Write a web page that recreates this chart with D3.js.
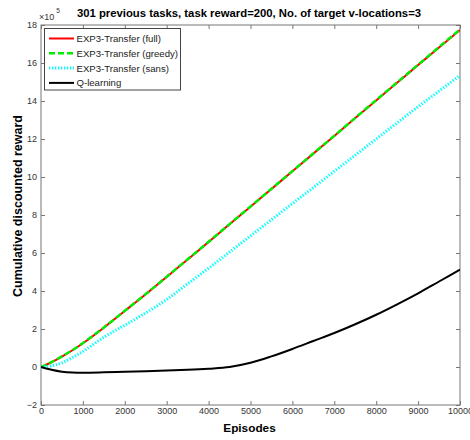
<!DOCTYPE html>
<html><head><meta charset="utf-8">
<script src="https://cdn.jsdelivr.net/npm/d3@7"></script>
<style>body{margin:0;background:#fff}svg{display:block}</style>
</head><body>
<script>
const episodes = [0,250,500,750,1000,1500,2000,2500,3000,3500,4000,4500,5000,5500,6000,6500,7000,7500,8000,8500,9000,9500,10000];
const fullVals   = [0,0.25,0.55,0.88,1.25,2.07,2.95,3.83,4.74,5.66,6.58,7.51,8.44,9.37,10.3,11.23,12.16,13.1,14.03,14.96,15.89,16.82,17.74];
const greedyVals = [0,0.26,0.56,0.89,1.26,2.08,2.96,3.84,4.75,5.67,6.59,7.52,8.45,9.38,10.31,11.24,12.17,13.11,14.05,14.98,15.91,16.84,17.77];
const sansVals   = [0,0.06,0.22,0.5,0.82,1.57,2.2,2.85,3.55,4.38,5.2,6.05,6.9,7.75,8.6,9.45,10.3,11.15,12.0,12.85,13.7,14.52,15.35];
const qVals      = [0,-0.15,-0.25,-0.29,-0.3,-0.28,-0.25,-0.22,-0.19,-0.15,-0.09,0.0,0.22,0.56,0.95,1.37,1.79,2.25,2.75,3.3,3.88,4.5,5.12];
const seriesNames = ["EXP3-Transfer (full)","EXP3-Transfer (greedy)","EXP3-Transfer (sans)","Q-learning"];
const xTicks = [0,1000,2000,3000,4000,5000,6000,7000,8000,9000,10000];
const yTicks = [-2,0,2,4,6,8,10,12,14,16,18];
const titleText = "301 previous tasks, task reward=200, No. of target v-locations=3";
const xLabel = "Episodes";
const yLabel = "Cumulative discounted reward";

const W = 470, H = 440;
const L = 41, R = 460, T = 25, B = 405;
const font = "'Liberation Sans', Arial, Helvetica, sans-serif";
const tickFont = "'Liberation Sans Narrow', 'Liberation Sans', Arial, sans-serif";
const svg = d3.select("body").append("svg").attr("width", W).attr("height", H)
  .style("font-family", font);

const x = d3.scaleLinear().domain([0,10000]).range([L,R]);
const y = d3.scaleLinear().domain([-2,18]).range([B,T]);

svg.append("defs").append("clipPath").attr("id","c")
  .append("rect").attr("x",L).attr("y",T).attr("width",R-L).attr("height",B-T);

// axes
const axisColor = "#777";
const tickColor = "#333";
const tl = 4;
function styleAxis(g, showLabels){
  g.select(".domain").remove();
  g.selectAll(".tick line").attr("stroke", axisColor);
  g.selectAll(".tick text").attr("fill", tickColor).style("font-size","9px").style("font-family",tickFont);
  if(!showLabels) g.selectAll(".tick text").remove();
}
svg.append("g").attr("transform",`translate(0,${B})`)
  .call(d3.axisBottom(x).tickValues(xTicks).tickSize(-tl).tickPadding(3).tickFormat(d3.format("d")))
  .call(g=>styleAxis(g,true));
svg.append("g").attr("transform",`translate(0,${T})`)
  .call(d3.axisTop(x).tickValues(xTicks).tickSize(-tl))
  .call(g=>styleAxis(g,false));
svg.append("g").attr("transform",`translate(${L},0)`)
  .call(d3.axisLeft(y).tickValues(yTicks).tickSize(-tl).tickPadding(4).tickFormat(d3.format("d")))
  .call(g=>styleAxis(g,true));
svg.append("g").attr("transform",`translate(${R},0)`)
  .call(d3.axisRight(y).tickValues(yTicks).tickSize(-tl))
  .call(g=>styleAxis(g,false));
svg.append("rect").attr("x",L).attr("y",T).attr("width",R-L).attr("height",B-T)
  .attr("fill","none").attr("stroke",axisColor).attr("stroke-width",1);

// lines
const styles = [
  {vals: fullVals,   color:"#ff0000", width:2,   dash:null},
  {vals: greedyVals, color:"#00ee00", width:2.5, dash:"6,3"},
  {vals: sansVals,   color:"#00ffff", width:3,   dash:"1.3,1.7"},
  {vals: qVals,      color:"#000000", width:2,   dash:null}
];
const line = d3.line().x(d=>x(d[0])).y(d=>y(d[1])).curve(d3.curveMonotoneX);
const plot = svg.append("g").attr("clip-path","url(#c)");
styles.forEach(s=>{
  plot.append("path").datum(episodes.map((e,i)=>[e,s.vals[i]]))
    .attr("d",line).attr("fill","none").attr("stroke",s.color)
    .attr("stroke-width",s.width).attr("stroke-dasharray",s.dash);
});

// legend
const lg = svg.append("g");
lg.append("rect").attr("x",44.5).attr("y",28.5).attr("width",136).attr("height",61.5)
  .attr("fill","#fff").attr("stroke","#444").attr("stroke-width",1);
seriesNames.forEach((n,i)=>{
  const yy = 38.5 + i*14.8;
  const s = styles[i];
  lg.append("line").attr("x1",49).attr("x2",74).attr("y1",yy).attr("y2",yy)
    .attr("stroke",s.color).attr("stroke-width",s.width).attr("stroke-dasharray",s.dash);
  lg.append("text").attr("x",76.5).attr("y",yy+3.5).text(n)
    .style("font-size","9.6px").attr("fill","#222");
});

// titles
svg.append("text").attr("x",249).attr("y",16.5).attr("text-anchor","middle")
  .style("font-size","11.3px").style("font-weight","bold").text(titleText);
svg.append("text").attr("x",249.5).attr("y",432).attr("text-anchor","middle")
  .style("font-size","11.8px").style("font-weight","bold").text(xLabel);
svg.append("text").attr("transform","translate(22,206) rotate(-90)").attr("text-anchor","middle")
  .style("font-size","12.5px").style("font-weight","bold").text(yLabel);

// exponent
const ex = svg.append("text").attr("x",39).attr("y",20).attr("fill",tickColor)
  .style("font-size","9px").style("font-family",tickFont);
ex.append("tspan").text("\u00d710");
ex.append("tspan").attr("dy",-7).attr("dx",2).style("font-size","6.5px").text("5");
</script>
</body></html>
